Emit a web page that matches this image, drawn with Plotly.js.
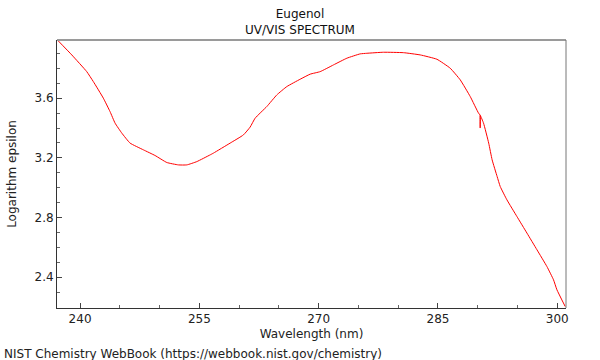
<!DOCTYPE html>
<html>
<head>
<meta charset="utf-8">
<script src="https://cdn.plot.ly/plotly-3.0.1.min.js"></script>
<style>html,body{margin:0;padding:0;background:#fff;}#chart{width:600px;height:360px;}</style>
</head>
<body>
<div id="chart"></div>
<script>
const wavelength = [237.15, 238.96, 240.84, 241.67, 242.93, 243.77, 244.40, 245.25, 246.29, 247.96,
  249.43, 250.91, 252.36, 253.42, 254.68, 256.35, 256.77, 258.87, 260.54, 261.38,
  262.01, 263.48, 264.74, 266.0, 267.67, 268.93, 270.19, 271.86, 273.55, 275.22,
  276.06, 278.15, 280.67, 282.77, 284.87, 286.54, 287.80, 289.06, 290.10, 290.30,
  290.31, 290.32, 290.73, 291.38, 291.81, 292.44, 292.83, 293.67, 294.93, 296.19,
  297.45, 298.70, 299.53, 299.96, 301.0];
const logEpsilon = [3.99, 3.89, 3.778, 3.711, 3.600, 3.510, 3.433, 3.366, 3.299, 3.254,
  3.216, 3.169, 3.153, 3.153, 3.175, 3.220, 3.232, 3.299, 3.354, 3.406,
  3.466, 3.544, 3.622, 3.678, 3.727, 3.761, 3.778, 3.823, 3.868, 3.897,
  3.901, 3.908, 3.905, 3.890, 3.861, 3.801, 3.723, 3.611, 3.500, 3.487,
  3.40, 3.484, 3.433, 3.299, 3.187, 3.075, 3.008, 2.919, 2.807, 2.696,
  2.584, 2.472, 2.383, 2.316, 2.204];
const xTicks = [240, 255, 270, 285, 300];
const yTicks = [2.4, 2.8, 3.2, 3.6];

const font = {family: 'DejaVu Sans, sans-serif', size: 12, color: '#222'};
const trace = {
  x: wavelength, y: logEpsilon, type: 'scatter', mode: 'lines',
  line: {color: '#ff0000', width: 1, shape: 'spline', smoothing: 0.4}, hoverinfo: 'skip'
};
const layout = {
  width: 600, height: 360,
  margin: {l: 57, r: 34, t: 40, b: 52},
  paper_bgcolor: '#fff', plot_bgcolor: '#fff',
  showlegend: false,
  font: font,
  title: {text: 'Eugenol<br>UV/VIS SPECTRUM', font: {family: 'DejaVu Sans, sans-serif', size: 12, color: '#111'},
          x: 0.5, xanchor: 'center', y: 0.949, yanchor: 'top'},
  xaxis: {
    range: [237.1, 301.1], tickvals: xTicks, ticktext: xTicks.map(String),
    ticks: 'inside', ticklen: 5, tickcolor: '#444', tickwidth: 1,
    minor: {dtick: 5, tick0: 240, ticks: 'inside', ticklen: 3, tickcolor: '#666', showgrid: false},
    showgrid: false, zeroline: false, showline: true, linecolor: '#333', linewidth: 1,
    title: {text: 'Wavelength (nm)', font: font, standoff: 4},
    tickfont: font
  },
  yaxis: {
    range: [2.194, 3.99], tickvals: yTicks, ticktext: yTicks.map(v => v.toFixed(1)),
    ticks: 'inside', ticklen: 5, tickcolor: '#444', tickwidth: 1,
    minor: {dtick: 0.1, tick0: 2.2, ticks: 'inside', ticklen: 3, tickcolor: '#666', showgrid: false},
    showgrid: false, zeroline: false, showline: true, linecolor: '#333', linewidth: 1,
    title: {text: 'Logarithm epsilon', font: font, standoff: 15},
    tickfont: font
  },
  shapes: [
    {type: 'line', xref: 'paper', yref: 'paper', x0: 0, x1: 1, y0: 1, y1: 1, line: {color: '#9a9a9a', width: 2}},
    {type: 'line', xref: 'paper', yref: 'paper', x0: 1, x1: 1, y0: 0, y1: 1, line: {color: '#777', width: 1}}
  ],
  annotations: [
    {text: 'NIST Chemistry WebBook (https://webbook.nist.gov/chemistry)', xref: 'paper', yref: 'paper',
     x: -55/509, xanchor: 'left', y: -0.138, yanchor: 'top', showarrow: false,
     font: font}
  ]
};
Plotly.newPlot('chart', [trace], layout, {staticPlot: true, displayModeBar: false});
</script>
</body>
</html>
